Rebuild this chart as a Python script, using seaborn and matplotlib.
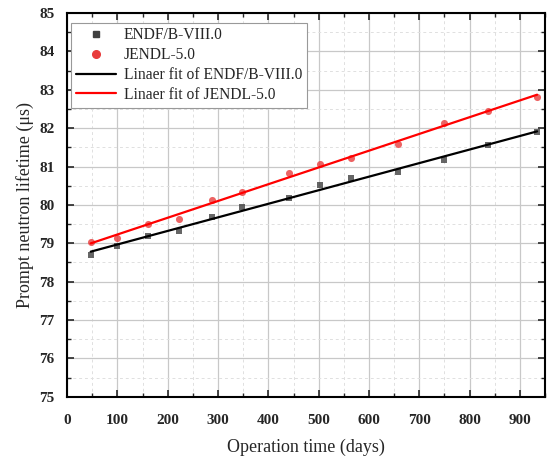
import numpy as np
import pandas as pd
import matplotlib
matplotlib.use("Agg")
import matplotlib.pyplot as plt
import seaborn as sns
from matplotlib.ticker import MultipleLocator
from matplotlib.lines import Line2D

days = [47, 99, 160, 223, 288, 348, 441, 503, 564, 657, 750, 836, 934]
endf = [78.70, 78.93, 79.19, 79.33, 79.69, 79.94, 80.19, 80.52, 80.70, 80.85, 81.17, 81.56, 81.90]
jendl = [79.03, 79.13, 79.50, 79.63, 80.13, 80.34, 80.83, 81.07, 81.23, 81.58, 82.13, 82.44, 82.80]

sns.set_style("white")
plt.rcParams["font.family"] = ["Liberation Serif", "DejaVu Serif"]
plt.rcParams["mathtext.fontset"] = "stix"

df = pd.DataFrame({"days": days, "endf": endf, "jendl": jendl})

fig = plt.figure(figsize=(5.54, 4.62), dpi=100)
ax = fig.add_axes([0.121, 0.141, 0.863, 0.831])

ax.grid(True, which="major", color="#c8c8c8", linewidth=0.9, linestyle="-")
ax.grid(True, which="minor", color="#e0e0e0", linewidth=0.7, linestyle=(0, (3, 3)))
ax.set_axisbelow(True)

sns.regplot(data=df, x="days", y="endf", ax=ax, ci=None, truncate=True, marker="s",
            scatter_kws=dict(s=24, color="#404040", linewidths=0, zorder=3),
            line_kws=dict(color="black", linewidth=1.6, zorder=4))
sns.regplot(data=df, x="days", y="jendl", ax=ax, ci=None, truncate=True, marker="o",
            scatter_kws=dict(s=26, color="#e83c3c", linewidths=0, zorder=3),
            line_kws=dict(color="#ff0000", linewidth=1.6, zorder=4))

ax.set_xlim(0, 950)
ax.set_ylim(75, 85)
ax.xaxis.set_major_locator(MultipleLocator(100))
ax.xaxis.set_minor_locator(MultipleLocator(50))
ax.yaxis.set_major_locator(MultipleLocator(1))
ax.yaxis.set_minor_locator(MultipleLocator(0.5))
ax.tick_params(which="both", direction="in", top=True, right=True, bottom=True, left=True)
ax.tick_params(which="major", length=5, width=1.2, labelsize=11)
ax.tick_params(axis="x", which="major", pad=12)
ax.tick_params(axis="y", which="major", pad=9)
ax.tick_params(which="minor", length=3, width=1.0)
for lab in ax.get_xticklabels() + ax.get_yticklabels():
    lab.set_fontweight("bold")
for s in ax.spines.values():
    s.set_linewidth(1.5)
    s.set_color("black")

ax.set_xlabel("Operation time (days)", fontsize=13, labelpad=9)
ax.set_ylabel("Prompt neutron lifetime (\u03bcs)", fontsize=13, labelpad=4)

handles = [
    Line2D([], [], linestyle="none", marker="s", markersize=5, color="#404040"),
    Line2D([], [], linestyle="none", marker="o", markersize=5.5, color="#e83c3c"),
    Line2D([], [], color="black", linewidth=1.6),
    Line2D([], [], color="#ff0000", linewidth=1.6),
]
labels = ["ENDF/B-VIII.0", "JENDL-5.0", "Linaer fit of ENDF/B-VIII.0", "Linaer fit of JENDL-5.0"]
leg = ax.legend(handles, labels, loc="upper left", bbox_to_anchor=(0.008, 0.975),
                fontsize=11.2, frameon=True, fancybox=False, edgecolor="#999999",
                framealpha=1, borderpad=0.3, labelspacing=0.25, handlelength=2.6,
                handletextpad=0.5, borderaxespad=0)
leg.get_frame().set_linewidth(0.8)

fig.savefig("out.png", dpi=100)
